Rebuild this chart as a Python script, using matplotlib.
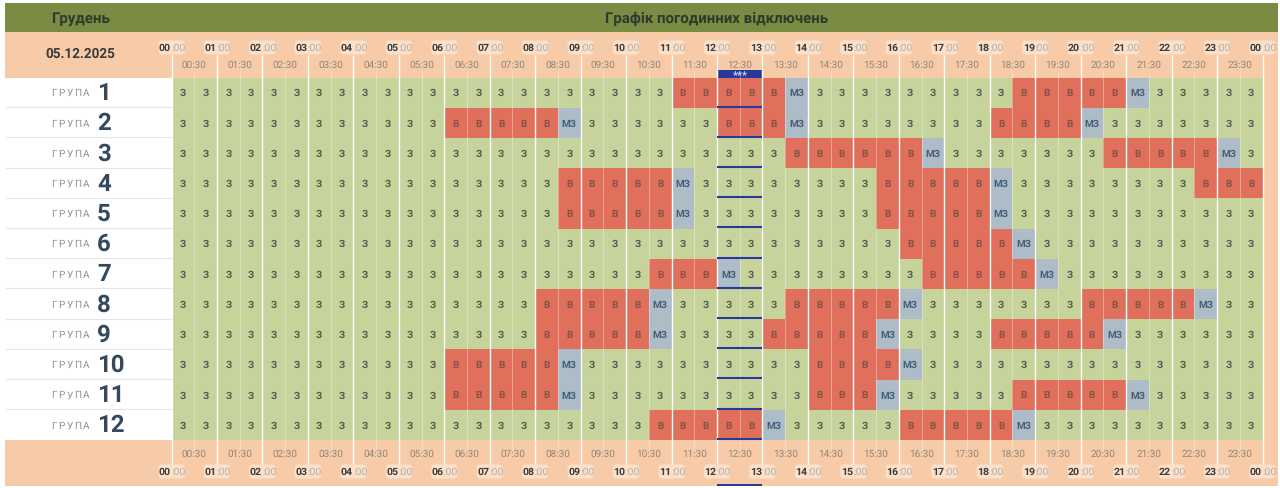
import matplotlib
matplotlib.use('Agg')
import matplotlib.pyplot as plt
from matplotlib.patches import FancyBboxPatch, Rectangle

plt.rcParams['font.family'] = ['Roboto', 'DejaVu Sans']
plt.rcParams['text.hinting'] = 'no_hinting'

title = 'Графік погодинних відключень'
month = 'Грудень'
date_label = '05.12.2025'
group_word = 'ГРУПА'
groups = ['1', '2', '3', '4', '5', '6', '7', '8', '9', '10', '11', '12']
hour_labels = ['00', '01', '02', '03', '04', '05', '06', '07', '08', '09', '10', '11', '12',
               '13', '14', '15', '16', '17', '18', '19', '20', '21', '22', '23', '00']
half_labels = ['00:30', '01:30', '02:30', '03:30', '04:30', '05:30', '06:30', '07:30',
               '08:30', '09:30', '10:30', '11:30', '12:30', '13:30', '14:30', '15:30',
               '16:30', '17:30', '18:30', '19:30', '20:30', '21:30', '22:30', '23:30']

# one letter per half hour, four blocks of six hours: Z = on, V = off, M = maybe on
group_1 = 'ZZZZZZZZZZZZ ZZZZZZZZZZVV VVVMZZZZZZZZ ZVVVVVMZZZZZ'
group_2 = 'ZZZZZZZZZZZZ VVVVVMZZZZZZ VVVMZZZZZZZZ VVVVMZZZZZZZ'
group_3 = 'ZZZZZZZZZZZZ ZZZZZZZZZZZZ ZZZVVVVVVMZZ ZZZZZVVVVVMZ'
group_4 = 'ZZZZZZZZZZZZ ZZZZZVVVVVMZ ZZZZZZZVVVVV MZZZZZZZZVVV'
group_5 = 'ZZZZZZZZZZZZ ZZZZZVVVVVMZ ZZZZZZZVVVVV MZZZZZZZZZZZ'
group_6 = 'ZZZZZZZZZZZZ ZZZZZZZZZZZZ ZZZZZZZZVVVV VMZZZZZZZZZZ'
group_7 = 'ZZZZZZZZZZZZ ZZZZZZZZZVVV MZZZZZZZZVVV VVMZZZZZZZZZ'
group_8 = 'ZZZZZZZZZZZZ ZZZZVVVVVMZZ ZZZVVVVVMZZZ ZZZZVVVVVMZZ'
group_9 = 'ZZZZZZZZZZZZ ZZZZVVVVVMZZ ZZVVVVVMZZZZ VVVVVMZZZZZZ'
group_10 = 'ZZZZZZZZZZZZ VVVVVMZZZZZZ ZZZZVVVVMZZZ ZZZZZZZZZZZZ'
group_11 = 'ZZZZZZZZZZZZ VVVVVMZZZZZZ ZZZZVVVMZZZZ ZVVVVVMZZZZZ'
group_12 = 'ZZZZZZZZZZZZ ZZZZZZZZZVVV VVMZZZZZVVVV VMZZZZZZZZZZ'
schedule = [group_1, group_2, group_3, group_4, group_5, group_6,
            group_7, group_8, group_9, group_10, group_11, group_12]

cell_colors = {'Z': '#c6d39b', 'V': '#e0705c', 'M': '#adbcc6'}
cell_texts = {'Z': 'З', 'V': 'В', 'M': 'МЗ'}
text_colors = {'Z': '#515e4f', 'V': '#85524c', 'M': '#45607a'}

W, H = 1280, 489
LEFT, RIGHT = 171.5, 1262.5
TOP, BOTTOM = 78.5, 441.0
PAGE_L, PAGE_R = 5, 1278
ORANGE = '#f7cba8'
NAVY = '#27399b'
slot_w = (RIGHT - LEFT) / 48
row_h = (BOTTOM - TOP) / 12


def px_axes(fig, zorder):
    ax = fig.add_axes([0, 0, 1, 1], zorder=zorder)
    ax.set_xlim(0, W)
    ax.set_ylim(H, 0)
    ax.axis('off')
    return ax


def slot_x(i):
    return LEFT + i * slot_w


def px(n):
    # font size from pixels
    return n * 0.72


fig = plt.figure(figsize=(W / 100, H / 100), dpi=100, facecolor='white')
back = px_axes(fig, 0)
front = px_axes(fig, 2)

# page blocks
back.add_patch(Rectangle((PAGE_L, 4), PAGE_R - PAGE_L, 29, fc='#7a8b43', lw=0))
back.add_patch(Rectangle((PAGE_L, 33), PAGE_R - PAGE_L, 46, fc=ORANGE, lw=0))
back.add_patch(Rectangle((PAGE_L, BOTTOM), PAGE_R - PAGE_L, 46, fc=ORANGE, lw=0))
back.add_patch(Rectangle((RIGHT, 33), PAGE_R - RIGHT, 454, fc=ORANGE, lw=0))

# schedule cells
grid = fig.add_axes([LEFT / W, 1 - BOTTOM / H, (RIGHT - LEFT) / W, (BOTTOM - TOP) / H], zorder=1)
grid.set_xlim(0, 48)
grid.set_ylim(12, 0)
grid.axis('off')
for row, states in enumerate(schedule):
    states = states.replace(' ', '')
    for col, state in enumerate(states):
        grid.bar(col + 0.5, 1, width=1, bottom=row, color=cell_colors[state], lw=0, antialiased=False)
        grid.text(col + 0.5, row + 0.5, cell_texts[state], ha='center', va='center',
                  fontsize=px(10), fontweight='bold', color=text_colors[state])

# separators over the cells
front.vlines([slot_x(i) for i in range(1, 48, 2)], 72, 450, color='white', alpha=0.4, lw=0.6)
front.vlines([slot_x(i) for i in range(0, 49, 2)], 56, 465, color='white', lw=1.0)

# current half hours in navy
now_l, now_r = slot_x(24), slot_x(26)
front.add_patch(Rectangle((now_l, 70.5), now_r - now_l, 8, fc=NAVY, lw=0))
for k in (-4.5, 0, 4.5):
    front.text((now_l + now_r) / 2 + k, 76, '*', ha='center', va='center',
               fontsize=px(11), fontweight='bold', color='#cdd6f5')
for row in range(12):
    y = TOP + (row + 1) * row_h - 1.2
    front.hlines(y, now_l, now_r, color=NAVY, lw=1.5)
front.add_patch(Rectangle((now_l, 485), now_r - now_l, 2, fc=NAVY, lw=0))

# header texts
front.text(80, 18.5, month, ha='center', va='center', fontsize=px(15), fontweight='bold', color='#2f3a2c')
front.text(716.5, 18.5, title, ha='center', va='center', fontsize=px(15), fontweight='bold', color='#2f3a2c')
front.text(80, 54.5, date_label, ha='center', va='center', fontsize=px(13.5), fontweight='bold', color='#3a3a3a')

# time labels, top and bottom
for hour_y, half_y in [(48.5, 65), (472.5, 454)]:
    for i, label in enumerate(half_labels):
        front.text(slot_x(2 * i + 1), half_y, label, ha='center', va='center',
                   fontsize=px(10), color='#90867a')
    for i, label in enumerate(hour_labels):
        x = slot_x(2 * i)
        front.add_patch(FancyBboxPatch((x - 11.5, hour_y - 5.5), 23, 11,
                                       boxstyle='round,pad=1.5,rounding_size=3',
                                       fc='#fbe0ca', ec='none'))
        front.text(x - 0.5, hour_y, label, ha='right', va='center', fontsize=px(10.5),
                   fontweight='bold', color='#3c3c3c')
        front.text(x - 0.5, hour_y, ':00', ha='left', va='center', fontsize=px(10.5), color='#b5b0a8')

# group names on the left
for row, name in enumerate(groups):
    cy = TOP + (row + 0.5) * row_h
    if row < 11:
        front.hlines(TOP + (row + 1) * row_h - 0.5, PAGE_L, LEFT, color='#e3e5e8', lw=0.8)
    for k, letter in enumerate(group_word):
        front.text(53.5 + k * 8.1, cy, letter, ha='center', va='center', fontsize=px(10), color='#8c9399')
    front.text(97, cy, name, ha='left', va='center', fontsize=px(24), fontweight='bold', color='#34495e')

fig.savefig('out.png', dpi=100, facecolor='white')
